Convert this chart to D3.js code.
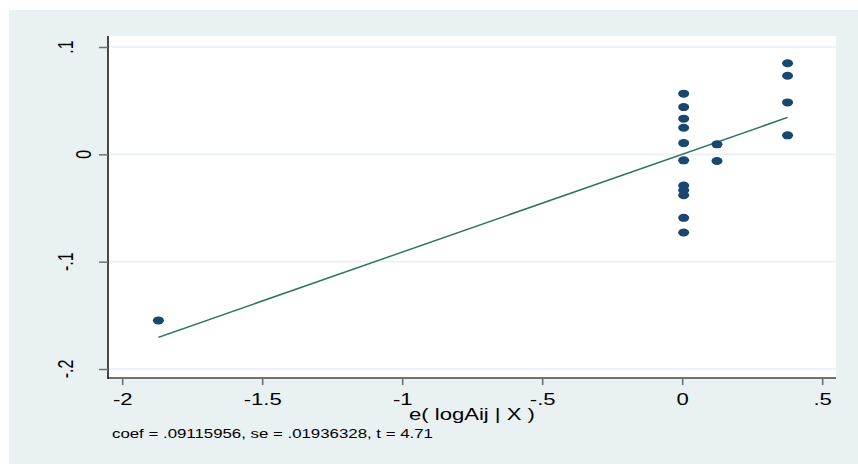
<!DOCTYPE html>
<html>
<head>
<meta charset="utf-8">
<script src="https://cdn.jsdelivr.net/npm/d3@7"></script>
<style>
  html, body { margin: 0; padding: 0; background: #ffffff; }
  svg { display: block; font-family: "Liberation Sans", Arial, sans-serif; }
</style>
</head>
<body>
<svg width="858" height="464"></svg>
<script>
// data
const residX = [-1.870,
  0.006, 0.006, 0.006, 0.006, 0.006, 0.006, 0.006, 0.006, 0.006, 0.006, 0.006,
  0.125, 0.125,
  0.377, 0.377, 0.377, 0.377];
const residY = [-0.1547,
  0.0565, 0.0440, 0.0332, 0.0248, 0.0105, -0.0056, -0.0291, -0.0335, -0.0381, -0.0592, -0.0728,
  0.0093, -0.0062,
  0.0849, 0.0732, 0.0484, 0.0177];
const coef = 0.09115956;
const xTicks = [-2, -1.5, -1, -0.5, 0, 0.5];
const yTicks = [-0.2, -0.1, 0, 0.1];
const xTitle = "e( logAij | X )";
const note = "coef = .09115956, se = .01936328, t = 4.71";

// the original image is stretched sideways, so draw in a narrower space and scale it
const sx = 1.38;
const fmt = v => String(v).replace(/^(-?)0\./, "$1.");

const svg = d3.select("svg");
svg.append("rect")
  .attr("x", 9).attr("y", 10).attr("width", 849).attr("height", 454)
  .attr("fill", "#e9f1f3");

const g = svg.append("g").attr("transform", `scale(${sx},1)`);

const x = d3.scaleLinear().domain([-2, 0.5]).range([122 / sx, 822 / sx]);
const y = d3.scaleLinear().domain([-0.2, 0.1]).range([369, 47]);

const plotL = 108 / sx, plotR = 836 / sx, plotT = 36, plotB = 378;

// plot region
g.append("rect")
  .attr("x", plotL).attr("y", plotT)
  .attr("width", plotR - plotL).attr("height", plotB - plotT)
  .attr("fill", "#ffffff");

// grid
g.append("g").selectAll("line").data(yTicks).join("line")
  .attr("x1", plotL).attr("x2", plotR)
  .attr("y1", d => y(d)).attr("y2", d => y(d))
  .attr("stroke", "#e9f1f3").attr("stroke-width", 1.6);

// fit line
const xr = d3.extent(residX);
g.append("path")
  .attr("d", d3.line()(xr.map(v => [x(v), y(coef * v)])))
  .attr("fill", "none").attr("stroke", "#2d7362").attr("stroke-width", 1.4);

// points
g.append("g").selectAll("circle").data(residX).join("circle")
  .attr("cx", d => x(d))
  .attr("cy", (d, i) => y(residY[i]))
  .attr("r", 4)
  .attr("fill", "#1a476f");

// x axis
const xAxis = g.append("g").attr("transform", `translate(0,${plotB})`)
  .call(d3.axisBottom(x).tickValues(xTicks).tickSize(7).tickPadding(9).tickFormat(fmt));
xAxis.select(".domain").attr("d", `M${plotL},0H${plotR}`)
  .attr("stroke", "#707070").attr("stroke-width", 2);
xAxis.selectAll(".tick line").attr("stroke", "#707070").attr("stroke-width", 1.2);
xAxis.selectAll(".tick text")
  .attr("font-size", 16).attr("fill", "#000").attr("font-family", null);

// y axis
const yAxis = g.append("g").attr("transform", `translate(${plotL},0)`)
  .call(d3.axisLeft(y).tickValues(yTicks).tickSize(9 / sx).tickFormat(fmt));
yAxis.select(".domain").attr("d", `M0,${plotT}V${plotB + 1}`)
  .attr("stroke", "#111").attr("stroke-width", 1.1);
yAxis.selectAll(".tick line").attr("stroke", "#707070").attr("stroke-width", 1.5);
yAxis.selectAll(".tick text").remove();

// rotated y labels
g.append("g").selectAll("text").data(yTicks).join("text")
  .attr("transform", d => `translate(${(d === 0 ? 91 : 73) / sx},${y(d)}) rotate(-90)`)
  .attr("text-anchor", "middle")
  .attr("font-size", 16).attr("fill", "#000")
  .text(fmt);

// axis title
g.append("text")
  .attr("x", (plotL + plotR) / 2).attr("y", 420)
  .attr("text-anchor", "middle")
  .attr("font-size", 16).attr("fill", "#000")
  .text(xTitle);

// note
g.append("text")
  .attr("x", 112 / sx).attr("y", 438)
  .attr("font-size", 12.2).attr("fill", "#000")
  .text(note);
</script>
</body>
</html>
